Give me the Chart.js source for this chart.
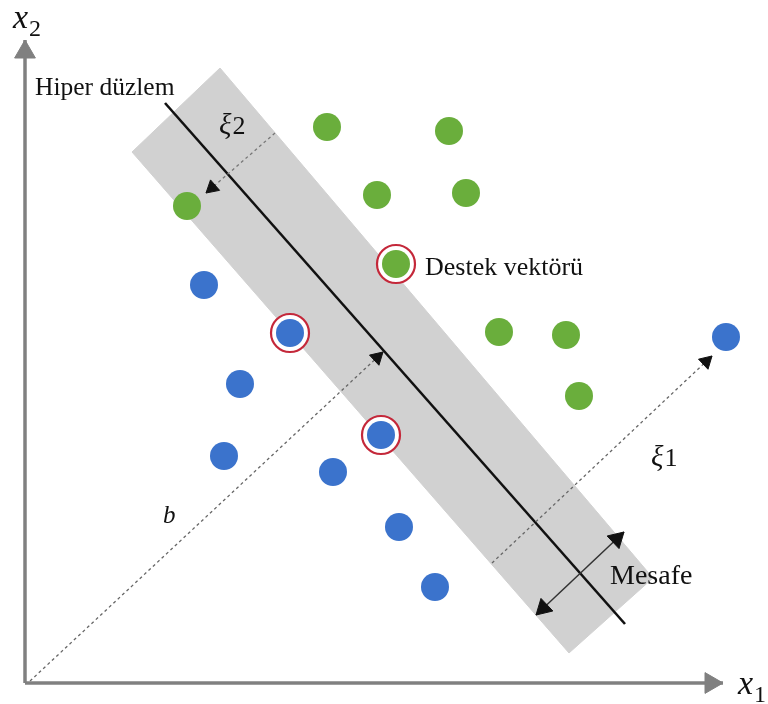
<!DOCTYPE html>
<html>
<head>
<meta charset="utf-8">
<script src="https://cdn.jsdelivr.net/npm/chart.js@4"></script>
<style>
  html, body { margin: 0; padding: 0; background: #fff; }
  #wrap { width: 768px; height: 704px; }
</style>
</head>
<body>
<div id="wrap"><canvas id="grafico"></canvas></div>
<script>
// pontos das duas classes (coordenadas no plano x1, x2 da figura)
const verdes = [[327, 127], [449, 131], [377, 195], [466, 193], [187, 206], [396, 264], [499, 332], [566, 335], [579, 396]];
const azuis = [[204, 285], [290, 333], [240, 384], [224, 456], [381, 435], [333, 472], [399, 527], [435, 587], [726, 337]];
const vetoresSuporte = [[396, 264], [290, 333], [381, 435]];

// faixa da margem e hiperplano
const faixa = [[220, 68], [653, 578], [569, 653], [132, 152], [220, 68]];
const hiperplano = [[165, 103], [625, 624]];

// segmentos auxiliares [inicio, fim]
const linhaB = [[30, 681], [383, 352]];
const linhaXi1 = [[492, 563], [712, 356]];
const linhaXi2 = [[275, 133], [206, 193]];
const linhaMesafe = [[536, 615], [624, 532]];
const eixoX1 = [[25, 683], [723, 683]];
const eixoX2 = [[25, 683], [25, 40]];

const pts = (arr) => arr.map(([x, y]) => ({ x, y }));

// ponta de seta (triangulo) na extremidade "para"
function setas(segs, r) {
  return segs.map(([de, para]) => {
    const dx = para[0] - de[0];
    const dy = para[1] - de[1];
    const len = Math.hypot(dx, dy);
    return {
      x: para[0] - (dx / len) * r,
      y: para[1] - (dy / len) * r,
      rot: (Math.atan2(dx, -dy) * 180) / Math.PI
    };
  });
}

function dsSetas(segs, r, cor) {
  const s = setas(segs, r);
  return {
    data: s.map((p) => ({ x: p.x, y: p.y })),
    showLine: false,
    pointStyle: "triangle",
    pointRadius: r,
    pointRotation: s.map((p) => p.rot),
    backgroundColor: cor,
    borderColor: cor,
    borderWidth: 1,
    clip: false
  };
}

function dsLinha(arr, cor, largura, dash) {
  return {
    data: pts(arr),
    showLine: true,
    borderColor: cor,
    borderWidth: largura,
    borderDash: dash || [],
    pointRadius: 0,
    fill: false,
    clip: false
  };
}

const serif = "'Liberation Serif', 'DejaVu Serif', serif";
const textos = [
  { t: "Hiper düzlem", x: 35, y: 95, size: 25.5 },
  { t: "Destek vektörü", x: 425, y: 275, size: 26 },
  { t: "Mesafe", x: 610, y: 584, size: 28 },
  { t: "ξ", x: 219, y: 134, size: 29, italic: true, sub: "2", subSize: 26, subDy: 0 },
  { t: "ξ", x: 651, y: 466, size: 29, italic: true, sub: "1", subSize: 26, subDy: 0 },
  { t: "b", x: 163, y: 523, size: 25, italic: true },
  { t: "x", x: 738, y: 694, size: 34, italic: true, sub: "1", subSize: 24, subDy: 8 },
  { t: "x", x: 13, y: 28, size: 34, italic: true, sub: "2", subSize: 24, subDy: 8 }
];

const pluginTextos = {
  id: "textos",
  afterDatasetsDraw(chart) {
    const { ctx, scales } = chart;
    ctx.save();
    ctx.fillStyle = "#111";
    ctx.textAlign = "left";
    ctx.textBaseline = "alphabetic";
    textos.forEach((l) => {
      const px = scales.x.getPixelForValue(l.x);
      const py = scales.y.getPixelForValue(l.y);
      ctx.font = `${l.italic ? "italic " : ""}${l.size}px ${serif}`;
      ctx.fillText(l.t, px, py);
      if (l.sub) {
        const w = ctx.measureText(l.t).width;
        ctx.font = `${l.subSize}px ${serif}`;
        ctx.fillText(l.sub, px + w + 1, py + l.subDy);
      }
    });
    ctx.restore();
  }
};

// primeiro da lista fica por cima
new Chart(document.getElementById("grafico"), {
  type: "scatter",
  data: {
    datasets: [
      {
        data: pts(azuis),
        pointRadius: 14,
        pointBackgroundColor: "#3b73cc",
        pointBorderWidth: 0,
        clip: false
      },
      {
        data: pts(verdes),
        pointRadius: 14,
        pointBackgroundColor: "#6aae3c",
        pointBorderWidth: 0,
        clip: false
      },
      {
        data: pts(vetoresSuporte),
        pointRadius: 19,
        pointBackgroundColor: "#ffffff",
        pointBorderColor: "#c4283a",
        pointBorderWidth: 2.2,
        clip: false
      },
      dsSetas([eixoX1, eixoX2], 12, "#808080"),
      dsSetas([linhaMesafe, [linhaMesafe[1], linhaMesafe[0]]], 10, "#111"),
      dsSetas([linhaB, linhaXi1, linhaXi2], 8, "#111"),
      dsLinha(eixoX2, "#808080", 3.5),
      dsLinha(eixoX1, "#808080", 3.5),
      dsLinha(linhaMesafe, "#333", 1.5),
      dsLinha(linhaXi2, "#777", 1.3, [3, 3]),
      dsLinha(linhaXi1, "#666", 1.3, [3, 3]),
      dsLinha(linhaB, "#666", 1.3, [3, 3]),
      dsLinha(hiperplano, "#111", 2.6),
      {
        data: pts(faixa),
        showLine: true,
        borderColor: "#d1d1d1",
        borderWidth: 1,
        backgroundColor: "#d1d1d1",
        fill: "shape",
        pointRadius: 0,
        tension: 0
      }
    ]
  },
  options: {
    responsive: true,
    maintainAspectRatio: false,
    animation: false,
    layout: { padding: 0, autoPadding: false },
    plugins: {
      legend: { display: false },
      tooltip: { enabled: false }
    },
    scales: {
      x: { type: "linear", min: 0, max: 768, display: false },
      y: { type: "linear", min: 0, max: 704, reverse: true, display: false }
    }
  },
  plugins: [pluginTextos]
});
</script>
</body>
</html>
